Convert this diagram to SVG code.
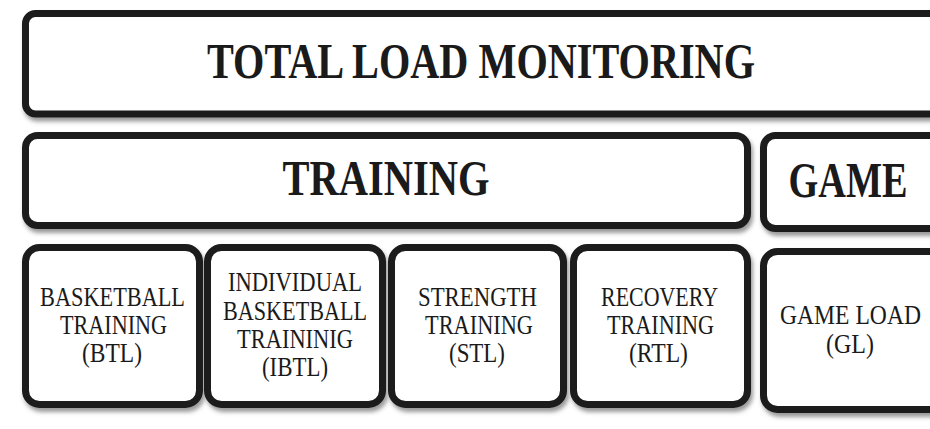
<svg xmlns="http://www.w3.org/2000/svg" width="930" height="429" viewBox="0 0 930 429">
<defs>
<filter id="sh" x="-10%" y="-10%" width="130%" height="130%">
<feDropShadow dx="2" dy="4" stdDeviation="2" flood-color="#555" flood-opacity="0.6"/>
</filter>
<style>
.box{fill:#fff;stroke:#1c1a1b;stroke-width:7;filter:url(#sh)}
.h{font-family:"Liberation Serif","DejaVu Serif",serif;font-weight:bold;font-size:50px;fill:#1a1a1a;text-anchor:middle}
.t{font-family:"Liberation Serif","DejaVu Serif",serif;font-size:28px;fill:#1a1a1a;text-anchor:middle}
</style>
</defs>
<rect width="930" height="429" fill="#fff"/>
<g id="total">
<rect class="box" x="25.5" y="13.5" width="930" height="100.5" rx="10"/>
<text class="h" x="481" y="78" textLength="548" lengthAdjust="spacingAndGlyphs">TOTAL LOAD MONITORING</text>
</g>
<g id="training">
<rect class="box" x="25.5" y="135.5" width="722" height="90" rx="12"/>
<text class="h" x="386" y="195" textLength="207" lengthAdjust="spacingAndGlyphs">TRAINING</text>
</g>
<g id="game">
<rect class="box" x="763.5" y="135.5" width="200" height="93" rx="12"/>
<text class="h" x="848" y="197" textLength="119" lengthAdjust="spacingAndGlyphs">GAME</text>
</g>
<g id="btl">
<rect class="box" x="25.5" y="247.5" width="174" height="157" rx="14"/>
<text class="t" x="112.5" y="306" textLength="145" lengthAdjust="spacingAndGlyphs">BASKETBALL</text>
<text class="t" x="113.5" y="334" textLength="107" lengthAdjust="spacingAndGlyphs">TRAINING</text>
<text class="t" x="112" y="362" textLength="60" lengthAdjust="spacingAndGlyphs">(BTL)</text>
</g>
<g id="ibtl">
<rect class="box" x="207.5" y="247.5" width="175" height="157" rx="14"/>
<text class="t" x="295" y="291" textLength="134" lengthAdjust="spacingAndGlyphs">INDIVIDUAL</text>
<text class="t" x="295" y="320" textLength="144" lengthAdjust="spacingAndGlyphs">BASKETBALL</text>
<text class="t" x="295" y="348" textLength="116" lengthAdjust="spacingAndGlyphs">TRAININIG</text>
<text class="t" x="295" y="376" textLength="66" lengthAdjust="spacingAndGlyphs">(IBTL)</text>
</g>
<g id="stl">
<rect class="box" x="391.5" y="247.5" width="172" height="157" rx="14"/>
<text class="t" x="477.5" y="306" textLength="119" lengthAdjust="spacingAndGlyphs">STRENGTH</text>
<text class="t" x="479" y="334" textLength="108" lengthAdjust="spacingAndGlyphs">TRAINING</text>
<text class="t" x="477" y="362" textLength="56" lengthAdjust="spacingAndGlyphs">(STL)</text>
</g>
<g id="rtl">
<rect class="box" x="573.5" y="247.5" width="174" height="157" rx="14"/>
<text class="t" x="659.5" y="306" textLength="117" lengthAdjust="spacingAndGlyphs">RECOVERY</text>
<text class="t" x="660.5" y="334" textLength="107" lengthAdjust="spacingAndGlyphs">TRAINING</text>
<text class="t" x="658.5" y="362" textLength="59" lengthAdjust="spacingAndGlyphs">(RTL)</text>
</g>
<g id="gl">
<rect class="box" x="763.5" y="251.5" width="200" height="158" rx="14"/>
<text class="t" x="850.5" y="324" textLength="141" lengthAdjust="spacingAndGlyphs">GAME LOAD</text>
<text class="t" x="850" y="353" textLength="48" lengthAdjust="spacingAndGlyphs">(GL)</text>
</g>
<g id="connectors"/>
</svg>
